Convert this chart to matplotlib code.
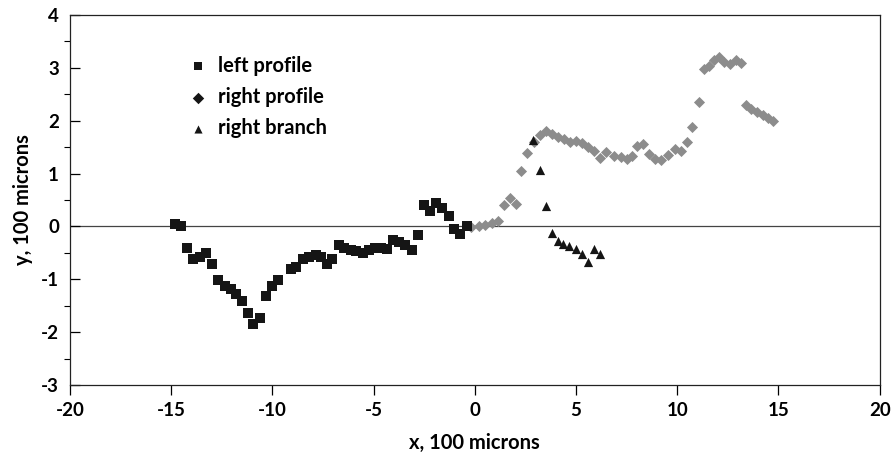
import matplotlib
matplotlib.use("Agg")
import matplotlib.pyplot as plt
from matplotlib.ticker import MultipleLocator

plt.rcParams['font.family'] = ['Lato', 'DejaVu Sans']

left_x = [-14.8, -14.5, -14.2, -13.9, -13.6, -13.3, -13.0, -12.7, -12.35, -12.05,
          -11.8, -11.5, -11.2, -10.95, -10.6, -10.3, -10.0, -9.7, -9.1, -8.85,
          -8.5, -8.17, -7.84, -7.6, -7.3, -7.05, -6.72, -6.44, -6.1, -5.86,
          -5.53, -5.23, -4.95, -4.62, -4.32, -4.04, -3.75, -3.47, -3.1, -2.8,
          -2.5, -2.23, -1.9, -1.6, -1.3, -1.04, -0.74, -0.41]
left_y = [0.05, 0.0, -0.41, -0.62, -0.57, -0.5, -0.72, -1.02, -1.12, -1.18,
          -1.27, -1.41, -1.63, -1.84, -1.73, -1.32, -1.13, -1.02, -0.8, -0.76,
          -0.61, -0.57, -0.55, -0.57, -0.71, -0.62, -0.35, -0.41, -0.45, -0.47,
          -0.5, -0.45, -0.41, -0.41, -0.42, -0.26, -0.3, -0.36, -0.45, -0.16,
          0.4, 0.3, 0.44, 0.35, 0.2, -0.05, -0.14, 0.0]

right_x = [-0.2, 0.2, 0.5, 0.85, 1.15, 1.45, 1.75, 2.05, 2.3, 2.6,
           2.9, 3.2, 3.5, 3.8, 4.1, 4.4, 4.7, 5.0, 5.3, 5.6,
           5.9, 6.2, 6.5, 6.85, 7.2, 7.5, 7.75, 8.0, 8.3, 8.6,
           8.9, 9.2, 9.55, 9.9, 10.2, 10.5, 10.75, 11.05, 11.3, 11.55,
           11.8, 12.05, 12.3, 12.6, 12.9, 13.15, 13.4, 13.65, 13.95, 14.25,
           14.5, 14.75]
right_y = [-0.02, 0.0, 0.03, 0.06, 0.1, 0.4, 0.53, 0.43, 1.04, 1.39,
           1.6, 1.72, 1.8, 1.74, 1.7, 1.65, 1.6, 1.61, 1.57, 1.5,
           1.42, 1.3, 1.4, 1.34, 1.31, 1.28, 1.34, 1.52, 1.56, 1.37,
           1.28, 1.25, 1.36, 1.47, 1.43, 1.6, 1.88, 2.35, 2.98, 3.04,
           3.14, 3.2, 3.11, 3.08, 3.15, 3.1, 2.3, 2.22, 2.16, 2.1,
           2.06, 2.0]

branch_x = [2.89, 3.22, 3.51, 3.8, 4.09, 4.37, 4.67, 5.0, 5.28, 5.61, 5.89, 6.19]
branch_y = [1.63, 1.06, 0.38, -0.12, -0.28, -0.33, -0.37, -0.42, -0.52, -0.67, -0.42, -0.52]

x_ticks = [-20, -15, -10, -5, 0, 5, 10, 15, 20]
y_ticks = [-3, -2, -1, 0, 1, 2, 3, 4]

fig = plt.figure(figsize=(8.94, 4.61), dpi=100)
ax = fig.add_axes([0.0783, 0.1649, 0.9057, 0.8026])

ax.axhline(0, color='#444444', lw=0.9, zorder=1)

ax.scatter(left_x, left_y, marker='s', s=48, color='#151515', label='left profile', zorder=3, linewidths=0)
ax.scatter(right_x, right_y, marker='D', s=32, color='#8c8c8c', label='right profile', zorder=2, linewidths=0)
ax.scatter(branch_x, branch_y, marker='^', s=44, color='#151515', label='right branch', zorder=4, linewidths=0)

ax.set_xlim(-20, 20)
ax.set_ylim(-3, 4)
ax.set_xticks(x_ticks)
ax.set_yticks(y_ticks)
ax.set_xticklabels([str(t) for t in x_ticks])
ax.set_yticklabels([str(t) for t in y_ticks])
ax.yaxis.set_minor_locator(MultipleLocator(0.5))

ax.tick_params(axis='x', direction='out', length=7, width=0.9, labelsize=13.5, pad=5)
ax.tick_params(axis='y', which='major', direction='in', length=7, width=0.9, labelsize=13.5, pad=8)
ax.tick_params(axis='y', which='minor', direction='out', length=4, width=0.8)
for lab in ax.get_xticklabels() + ax.get_yticklabels():
    lab.set_fontweight('bold')

for sp in ax.spines.values():
    sp.set_linewidth(0.9)
    sp.set_color('#222222')

ax.set_xlabel('x, 100 microns', fontsize=14.5, fontweight='bold', labelpad=10)
ax.set_ylabel('y, 100 microns', fontsize=14.5, fontweight='bold', labelpad=6)

leg = ax.legend(loc='upper left', bbox_to_anchor=(0.148, 0.89), frameon=False,
                borderaxespad=0, borderpad=0,
                handletextpad=0.6, labelspacing=0.56,
                handlelength=0.8, prop={'weight': 'bold', 'size': 14.5})
for h in leg.legend_handles:
    h.set_color('#151515')
    h.set_sizes([34])

fig.savefig('out.png', dpi=100)
